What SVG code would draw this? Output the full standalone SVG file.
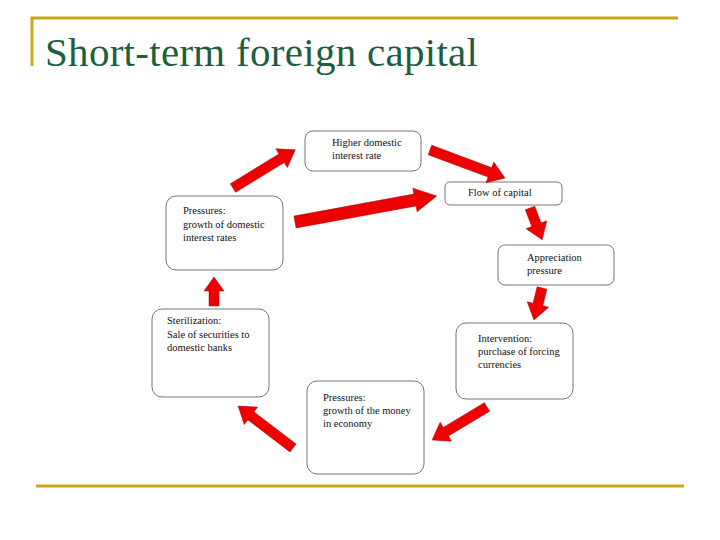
<svg xmlns="http://www.w3.org/2000/svg" width="720" height="540" viewBox="0 0 720 540">
<style>
.box{fill:#fff;stroke:#777;stroke-width:1}
.t{font-family:"Liberation Serif",serif;font-size:10.5px;fill:#111}
.arr{fill:#ee0000;stroke:#aa0000;stroke-width:0.5}
.rule{stroke:#c8a818;stroke-width:3;fill:none}
</style>
<rect width="720" height="540" fill="#fff"/>
<path class="rule" d="M32,66 V18 H678"/>
<line class="rule" x1="36" y1="486" x2="684" y2="486"/>
<text x="45" y="66" font-family="'Liberation Serif',serif" font-size="41" textLength="433" fill="#1d5e3c">Short-term foreign capital</text>
<g id="n1"><rect class="box" x="305" y="131" width="116" height="40" rx="8"/><text class="t" x="332" y="146">Higher domestic</text><text class="t" x="332" y="159">interest rate</text></g>
<g id="n2"><rect class="box" x="445" y="182" width="117" height="23" rx="5"/><text class="t" x="468" y="196">Flow of capital</text></g>
<g id="n3"><rect class="box" x="498" y="245" width="116" height="40" rx="7"/><text class="t" x="527" y="261">Appreciation</text><text class="t" x="527" y="274">pressure</text></g>
<g id="n4"><rect class="box" x="456" y="323" width="117" height="76" rx="10"/><text class="t" x="478" y="342">Intervention:</text><text class="t" x="478" y="355">purchase of forcing</text><text class="t" x="478" y="368">currencies</text></g>
<g id="n5"><rect class="box" x="307" y="381" width="117" height="93" rx="10"/><text class="t" x="323" y="401">Pressures:</text><text class="t" x="323" y="414">growth of the money</text><text class="t" x="323" y="427">in economy</text></g>
<g id="n6"><rect class="box" x="152" y="309" width="117" height="88" rx="10"/><text class="t" x="167" y="324">Sterilization:</text><text class="t" x="167" y="338">Sale of securities to</text><text class="t" x="167" y="351">domestic banks</text></g>
<g id="n7"><rect class="box" x="166" y="196" width="117" height="74" rx="10"/><text class="t" x="183" y="214">Pressures:</text><text class="t" x="183" y="228">growth of domestic</text><text class="t" x="183" y="241">interest rates</text></g>
<g id="connectors">
<path class="arr" transform="translate(233,188) rotate(-31.5)" d="M0,-5 H57 V-11 L73,0 L57,11 V5 H0 Z"/>
<path class="arr" transform="translate(430,150) rotate(20.5)" d="M0,-5 H64 V-11 L80,0 L64,11 V5 H0 Z"/>
<path class="arr" transform="translate(295,222) rotate(-10.4)" d="M0,-6 H122 V-12 L144,0 L122,12 V6 H0 Z"/>
<path class="arr" transform="translate(530,208) rotate(69)" d="M0,-5 H18 V-11 L34,0 L18,11 V5 H0 Z"/>
<path class="arr" transform="translate(542,288) rotate(104)" d="M0,-5 H17 V-11 L33,0 L17,11 V5 H0 Z"/>
<path class="arr" transform="translate(487,407) rotate(149)" d="M0,-5 H48 V-11 L64,0 L48,11 V5 H0 Z"/>
<path class="arr" transform="translate(293,448) rotate(217.4)" d="M0,-5 H53 V-11 L69,0 L53,11 V5 H0 Z"/>
<path class="arr" transform="translate(214,306) rotate(-90)" d="M0,-5 H15 V-10 L29,0 L15,10 V5 H0 Z"/>
</g>
</svg>
